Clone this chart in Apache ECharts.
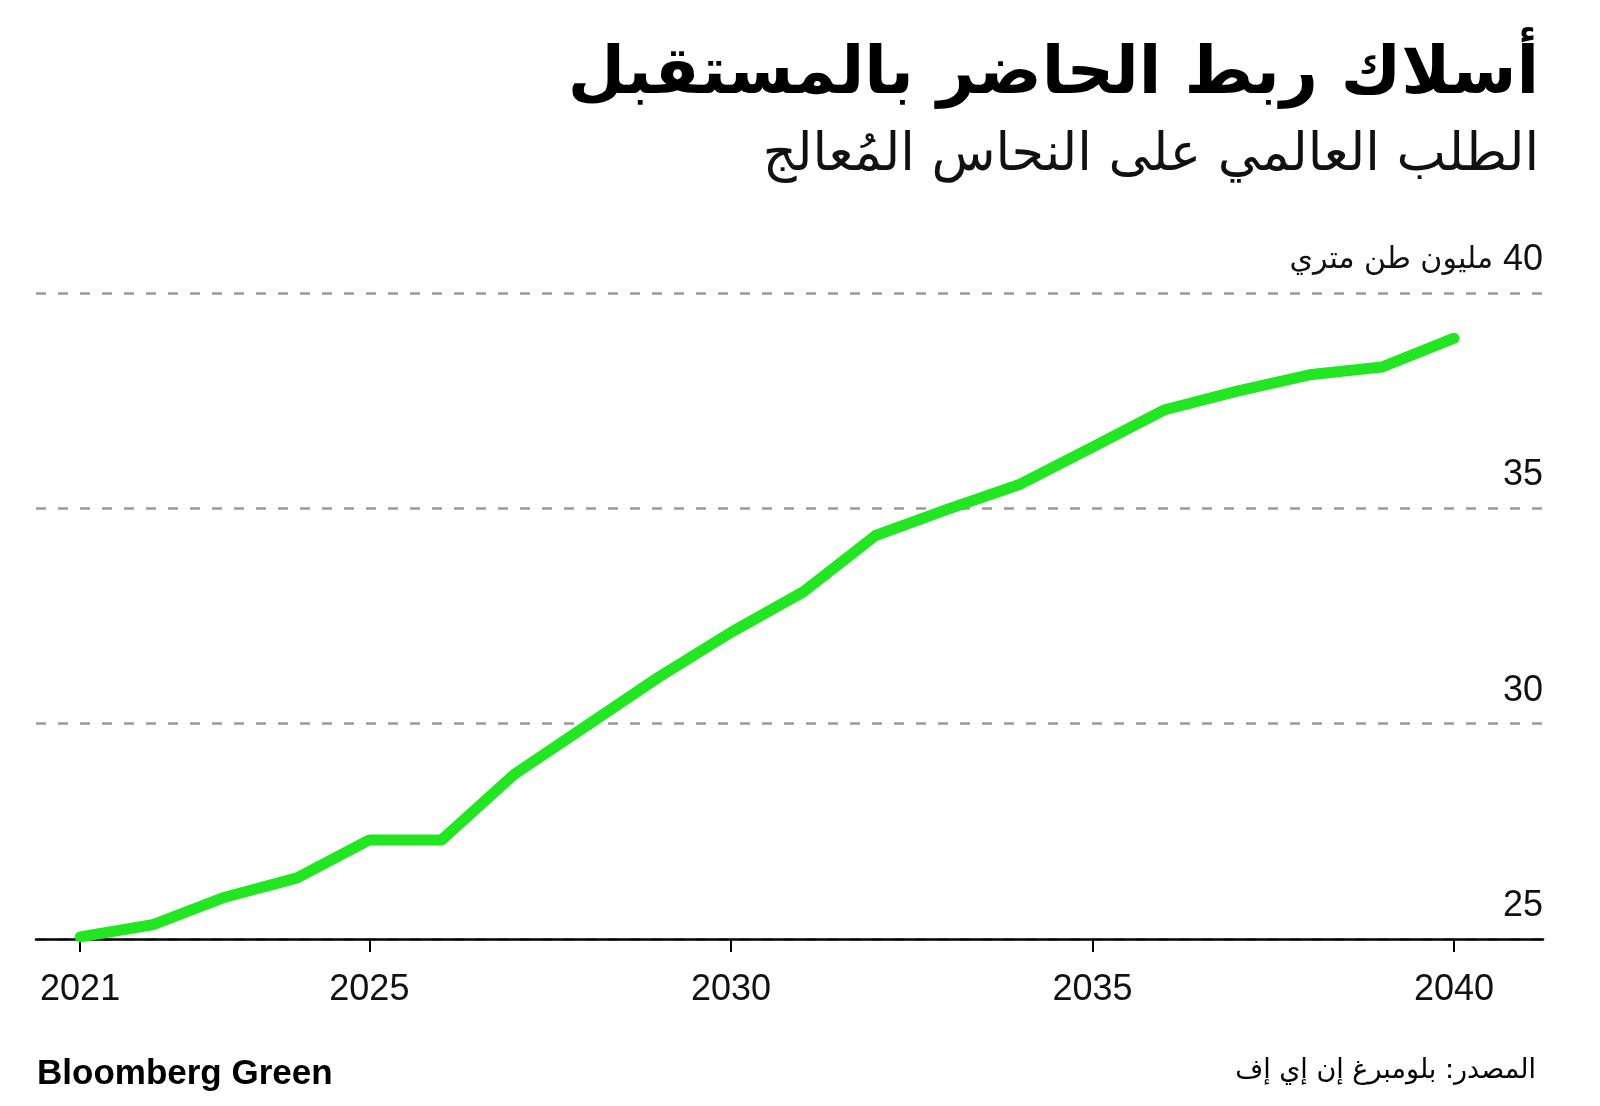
<!DOCTYPE html>
<html>
<head>
<meta charset="utf-8">
<script src="https://cdn.jsdelivr.net/npm/echarts@6/dist/echarts.min.js"></script>
<style>
html,body{margin:0;padding:0;background:#fff;}
#c{width:1600px;height:1106px;}
</style>
</head>
<body>
<div id="c"></div>
<script>
const years = [2021,2022,2023,2024,2025,2026,2027,2028,2029,2030,2031,2032,2033,2034,2035,2036,2037,2038,2039,2040];
const demand = [25.05,25.33,25.97,26.42,27.3,27.3,28.82,29.95,31.08,32.12,33.06,34.37,34.98,35.56,36.42,37.29,37.72,38.1,38.28,38.95];
const xTicks = [2021,2025,2030,2035,2040];
const yTicks = [25,30,35,40];
const titleText = 'أسلاك ربط الحاضر بالمستقبل';
const subtitleText = 'الطلب العالمي على النحاس المُعالج';
const unitText = 'مليون طن متري';
const sourceText = 'المصدر: بلومبرغ إن إي إف';
const brandText = 'Bloomberg Green';

const AR = '"DejaVu Sans", sans-serif';
const LAT = '"Liberation Sans", Arial, sans-serif';

const chart = echarts.init(document.getElementById('c'), null, {renderer:'canvas'});
chart.setOption({
  backgroundColor:'#ffffff',
  animation:false,
  title:[
    {text:titleText, right:56, top:38, textStyle:{fontFamily:AR, fontWeight:'bold', fontSize:66, color:'#000'}},
    {text:subtitleText, right:56, top:125, textStyle:{fontFamily:AR, fontWeight:'normal', fontSize:52.5, color:'#111'}}
  ],
  graphic:[
    {type:'text', left:37, top:1057, style:{text:brandText, fontFamily:LAT, fontWeight:'bold', fontSize:35, fill:'#000'}},
    {type:'text', right:64, top:1057, style:{text:sourceText, fontFamily:AR, fontSize:27, fill:'#000', textAlign:'right'}}
  ],
  grid:{left:36, right:57, top:293, bottom:167, containLabel:false},
  xAxis:{
    type:'value', min:2020.39, max:2041.23,
    axisLine:{show:true, lineStyle:{color:'#000', width:2.5}},
    axisTick:{show:true, customValues:xTicks, length:13, lineStyle:{color:'#000', width:2}},
    axisLabel:{customValues:xTicks, margin:33, fontFamily:LAT, fontSize:36, color:'#111', lineHeight:36,
      formatter:function(v){ return String(v); }},
    splitLine:{show:false}
  },
  yAxis:{
    type:'value', position:'right', min:25, max:40, interval:5,
    axisLine:{show:false}, axisTick:{show:false},
    axisLabel:{inside:true, margin:0, fontFamily:LAT, fontSize:36, color:'#111', verticalAlign:'bottom', lineHeight:66,
      formatter:function(v){ return v===40 ? ('{u|' + unitText + '} {n|40}') : String(v); },
      rich:{
        u:{fontFamily:AR, fontSize:30, color:'#111', lineHeight:66, verticalAlign:'middle'},
        n:{fontFamily:LAT, fontSize:36, color:'#111', lineHeight:66, verticalAlign:'middle'}
      }},
    splitLine:{show:true, lineStyle:{color:'#9a9a9a', width:2.5, type:[10,12]}}
  },
  series:[{
    type:'line', data:years.map((y,i)=>[y,demand[i]]),
    showSymbol:false, symbol:'none',
    lineStyle:{color:'#22e622', width:11, cap:'round', join:'round'},
    z:5
  }]
});
</script>
</body>
</html>
